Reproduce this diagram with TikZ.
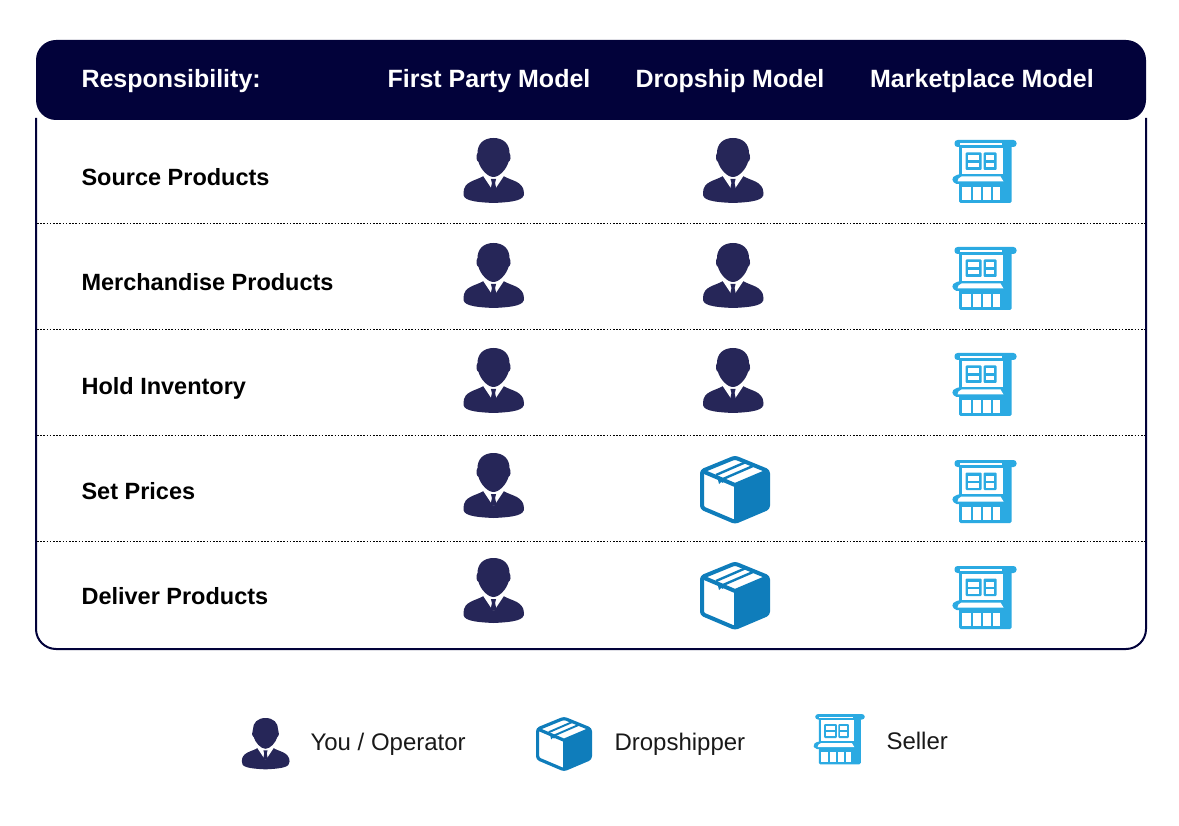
\documentclass[tikz,border=0pt]{standalone}
\usepackage{fontspec}
\setmainfont{Liberation Sans}
\definecolor{navy}{HTML}{02023A}
\definecolor{suit}{HTML}{262658}
\definecolor{boxblue}{HTML}{0F7DBB}
\definecolor{shopblue}{HTML}{2BAAE2}
\tikzset{
  headtext/.style={anchor=base,text=white,font=\fontsize{25}{25}\selectfont\bfseries},
  rowtext/.style={anchor=base west,text=black,font=\fontsize{23.5}{24}\selectfont\bfseries},
  keytext/.style={anchor=base west,text=black!90,font=\fontsize{24}{24}\selectfont},
  rowline/.style={black,line width=0.9pt,dash pattern=on 1.6pt off 1.6pt},
  pics/personicon/.style={code={
    \fill[suit] (-10,38) .. controls (-18,43) and (-30,43) .. (-30,55)
      .. controls (-31,62) and (-22,64) .. (0,65)
      .. controls (22,64) and (31,62) .. (30.5,55)
      .. controls (30,43) and (18,43) .. (10,38) -- cycle;
    \fill[white] (-11,37) -- (-1,52) -- (1,52) -- (11,37) -- cycle;
    \fill[suit] (-2.6,41) -- (2.6,41) -- (1.6,45) -- (3,52) -- (-3,52) -- (-1.6,45) -- cycle;
    \fill[suit] (0,0) .. controls (10,0) and (16,6) .. (16,15)
      .. controls (18,18) and (17,23) .. (15,24)
      .. controls (13,31) and (6,39) .. (0,39)
      .. controls (-6,39) and (-13,31) .. (-15,24)
      .. controls (-17,23) and (-18,18) .. (-16,15)
      .. controls (-16,6) and (-10,0) .. (0,0) -- cycle;
  }},
  pics/boxicon/.style={code={
    \fill[boxblue,rounded corners=2] (0,29) -- (33,14) -- (33,52) -- (0,66) -- cycle;
    \draw[boxblue,line width=#1 pt,line join=round,rounded corners=2.5]
      (0,1.5) -- (33,15) -- (33,52) -- (0,66) -- (-33,52) -- (-33,15) -- cycle;
    \draw[boxblue,line width=#1 pt,line join=round] (-33,15) -- (0,29) -- (33,15);
    \draw[boxblue,line width=0.75*#1 pt] (0,29) -- (0,66);
    \draw[boxblue,line width=0.6*#1 pt] (-19,19) -- (11,6);
    \draw[boxblue,line width=0.6*#1 pt] (-12,23) -- (18,10);
    \fill[boxblue] (-19,19) -- (-12,23) -- (-12,27) -- (-14,26) -- (-16,28) -- (-17,24) -- cycle;
  }},
  pics/shopicon/.style={code={
    \fill[shopblue,rounded corners=1.5] (-26.5,5) rectangle (26,63);
    \fill[shopblue,rounded corners=3] (-31,0) rectangle (31,7);
    \fill[white] (-26,3.2) rectangle (16,5);
    \fill[white] (-24,8) rectangle (17,32);
    \fill[shopblue,rounded corners=1] (-20,12.5) rectangle (-4,30);
    \fill[shopblue,rounded corners=1] (-2,12.5) rectangle (11,30);
    \fill[white] (-17.5,15.5) rectangle (-6.5,20.5);
    \fill[white] (-17.5,23) rectangle (-6.5,27.5);
    \fill[white] (0.5,15.5) rectangle (8.5,20.5);
    \fill[white] (0.5,23) rectangle (8.5,27.5);
    \fill[shopblue,rounded corners=2] (-34,38) -- (-27,34) -- (20,34) -- (25,44) -- (-31,44) -- cycle;
    \fill[white] (-27,38.5) -- (-24,36.5) -- (15,36.5) -- (18,41.5) -- (-28,41.5) -- cycle;
    \fill[white] (-24,34) rectangle (17,32);
    \fill[white] (-24,47) rectangle (-15,60);
    \fill[white] (-12.5,47) rectangle (-5,60);
    \fill[white] (-2.5,47) rectangle (5,60);
    \fill[white] (7.5,47) rectangle (14,60);
  }},
  pics/boxicon/.default=4
}

\begin{document}
\begin{tikzpicture}[x=1pt,y=-1pt]
\useasboundingbox (0,0) rectangle (1179,826);

\fill[navy,rounded corners=20] (36,120) -- (36,40) -- (1146,40) -- (1146,120) -- cycle;
\draw[navy,line width=2pt,rounded corners=20] (36,118) -- (36,649) -- (1146,649) -- (1146,118);

\node[headtext,anchor=base west] (resp) at (78,88) {Responsibility:};
\node[headtext] (first) at (489,88) {First Party Model};
\node[headtext] (drop) at (730,88) {Dropship Model};
\node[headtext] (market) at (982,88) {Marketplace Model};

\foreach \y in {223,329,435,541}
  \draw[rowline] (37,\y) -- (1145,\y);

\node[rowtext] (source) at (78,186) {Source Products};
\node[rowtext] (merch) at (78,291) {Merchandise Products};
\node[rowtext] (hold) at (78,395) {Hold Inventory};
\node[rowtext] (prices) at (78,499) {Set Prices};
\node[rowtext] (deliver) at (78,604) {Deliver Products};

\foreach \y in {138,243,348,453,558}
  \pic at (493.5,\y) {personicon};
\foreach \y in {138,243,348}
  \pic at (733,\y) {personicon};
\foreach \y in {456,562}
  \pic at (735,\y) {boxicon};
\foreach \y in {140,247,353,460,566}
  \pic at (985.5,\y) {shopicon};

\pic[scale=0.79] at (265.5,718) {personicon};
\node[keytext] (you) at (307,750) {You / Operator};
\pic[scale=0.8] at (564,717) {boxicon=3.2};
\node[keytext] (shipper) at (611,750) {Dropshipper};
\pic[scale=0.8] at (840,714) {shopicon};
\node[keytext] (seller) at (883,749) {Seller};
\end{tikzpicture}
\end{document}
